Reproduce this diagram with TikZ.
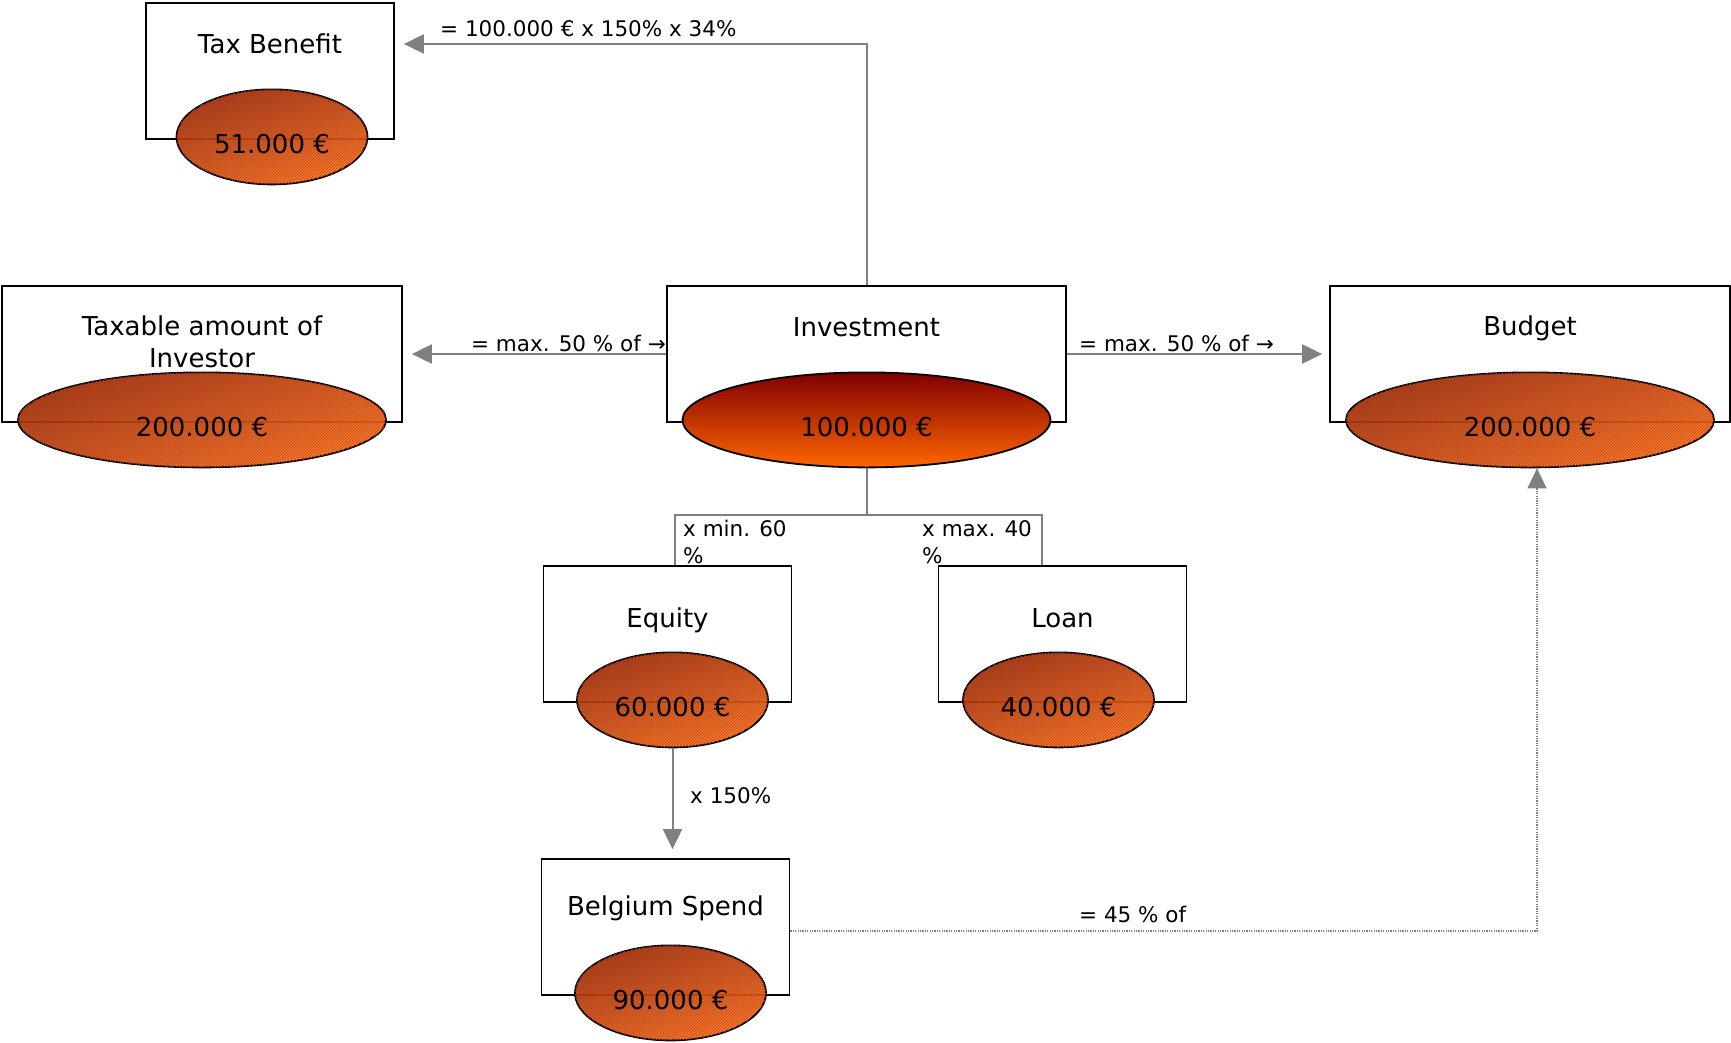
\documentclass[tikz,border=0pt]{standalone}
\usepackage{fontspec}
\setmainfont{DejaVu Sans}
\usetikzlibrary{arrows.meta,shapes.geometric,patterns,positioning}

\definecolor{linkgray}{HTML}{808080}
\definecolor{odark}{HTML}{862006}
\definecolor{olight}{HTML}{FF741A}
\definecolor{ohatch}{HTML}{C84412}
\definecolor{invtop}{HTML}{800000}
\definecolor{invbot}{HTML}{FF6600}

\tikzset{
  box/.style={draw, line width=1.8pt, minimum width=248pt, minimum height=136pt, inner sep=0pt},
  title/.style={anchor=base, inner sep=0pt, align=center, font=\fontsize{26}{32}\selectfont},
  ell/.style={ellipse, draw, line width=1.8pt, minimum width=191pt, minimum height=95pt,
    inner sep=0pt, text height=34pt, text depth=0pt, font=\fontsize{26}{32}\selectfont},
  bigell/.style={ell, minimum width=368pt},
  hatch/.style={top color=odark, bottom color=olight, shading angle=18, fill opacity=.9, text opacity=1,
    postaction={pattern=north east lines, pattern color=ohatch}},
  grad/.style={top color=invtop, bottom color=invbot},
  link/.style={draw=linkgray, line width=2pt, -{Triangle[length=20pt,width=19pt]}},
  tree/.style={draw=linkgray, line width=2pt},
  dotlink/.style={draw=linkgray, line width=1.2pt, dash pattern=on 1.2pt off 1.2pt, -{Triangle[length=20pt,width=19pt]}},
  lbl/.style={inner sep=0pt, font=\fontsize{21.5}{27}\selectfont}
}

\begin{document}
\begin{tikzpicture}[x=1pt,y=-1pt]
\useasboundingbox (0,0) rectangle (1731,1042);
% boxes
\node[box] (tax) at (270,71) {};
\node[box, minimum width=400pt] (taxable) at (202,354) {};
\node[box, minimum width=399pt] (inv) at (866.5,354) {};
\node[box, minimum width=400pt] (budget) at (1530,354) {};
\node[box] (equity) at (667.5,634) {};
\node[box] (loan) at (1062.5,634) {};
\node[box] (belg) at (665.5,927) {};
% titles
\node[title] (taxT) at ([yshift=-51.5pt]tax.north) {Tax Benefit};
\node[title] (taxableT) at ([yshift=-82.5pt]taxable.north) {Taxable amount of\\Investor};
\node[title] (invT) at ([yshift=-51.5pt]inv.north) {Investment};
\node[title] (budgetT) at ([yshift=-50.5pt]budget.north) {Budget};
\node[title] (equityT) at ([yshift=-62.5pt]equity.north) {Equity};
\node[title] (loanT) at ([yshift=-62.5pt]loan.north) {Loan};
\node[title] (belgT) at ([yshift=-57.5pt]belg.north) {Belgium Spend};
% amounts
\node[ell, hatch] (taxV) at ([xshift=2pt,yshift=3pt]tax.south) {51.000 €};
\node[bigell, hatch] (taxableV) at ([yshift=3pt]taxable.south) {200.000 €};
\node[bigell, grad] (invV) at ([yshift=3pt]inv.south) {100.000 €};
\node[bigell, hatch] (budgetV) at ([yshift=3pt]budget.south) {200.000 €};
\node[ell, hatch] (equityV) at ([xshift=5pt,yshift=3pt]equity.south) {60.000 €};
\node[ell, hatch] (loanV) at ([xshift=-4pt,yshift=3pt]loan.south) {40.000 €};
\node[ell, hatch] (belgV) at ([xshift=5pt,yshift=3pt]belg.south) {90.000 €};
% connectors
\coordinate (taxin) at ([yshift=27pt]tax.east);
\draw[link, shorten >=9pt] (inv.north) |- (taxin);
\draw[link, shorten >=9pt] (inv.west) -- (taxable.east);
\draw[link, shorten >=7pt] (inv.east) -- (budget.west);
\coordinate (eqin) at ([xshift=7.5pt]equity.north);
\coordinate (loanin) at ([xshift=-20.5pt]loan.north);
\draw[tree] (invV.south) -- ++(0,47) -| (eqin);
\draw[tree] (invV.south) -- ++(0,47) -| (loanin);
\draw[link, shorten >=9pt] (equityV.south) -- (equityV.south |- belg.north);
\coordinate (budin) at ([xshift=7pt]budgetV.south);
\draw[dotlink] ([yshift=-4pt]belg.east) -| (budin);
% labels
\node[lbl, anchor=base west] (taxL) at (440,36) {= 100.000 € x 150\% x 34\%};
\node[lbl, anchor=base east] (taxableL) at (666,351) {= max. 50 \% of →};
\node[lbl, anchor=base west] (budgetL) at (1079,351) {= max. 50 \% of →};
\node[lbl, anchor=base west, align=left] (equityL) at (683,563) {x min. 60\\\%};
\node[lbl, anchor=base west, align=left] (loanL) at (922,563) {x max. 40\\\%};
\node[lbl, anchor=base west] (belgL) at (690,803) {x 150\%};
\node[lbl, anchor=base west] (spendL) at (1079,922) {= 45 \% of};
\end{tikzpicture}
\end{document}
